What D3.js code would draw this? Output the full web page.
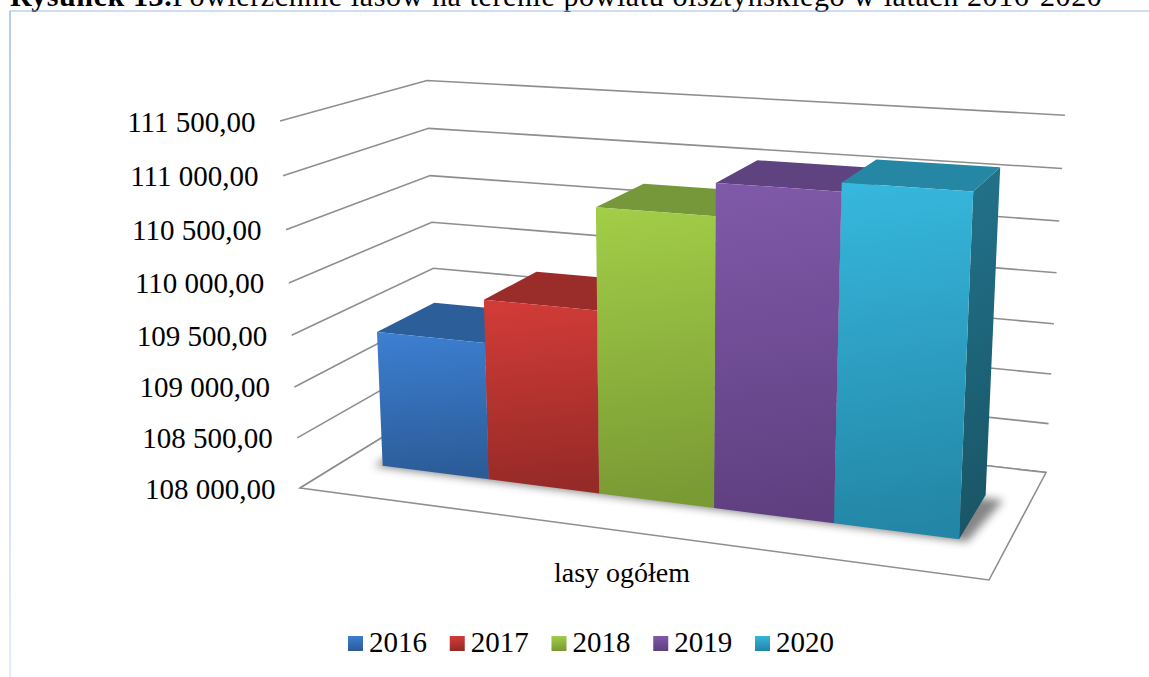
<!DOCTYPE html>
<html lang="pl">
<head>
<meta charset="UTF-8">
<title>Rysunek 13</title>
<script src="https://d3js.org/d3.v7.min.js"></script>
<style>
    html, body { margin: 0; padding: 0; background: #fff; }
    svg { display: block; }
    text { font-family: "Liberation Serif", serif; fill: #000; }
</style>
</head>
<body>
<div id="chart"></div>
<script>
// data
var years = ['2016', '2017', '2018', '2019', '2020'];
var area = [109360, 109780, 110745, 111045, 111125];
var ticks = [108000, 108500, 109000, 109500, 110000, 110500, 111000, 111500];
var category = 'lasy ogółem';

// face colours per series: [front top, front bottom, top face, side top, side bottom]
var colors = [
    ['#3d7fd2', '#2b5c98', '#2c5e99', '#2c5e99', '#204670'],
    ['#d33c38', '#962a27', '#9a2c29', '#9a2c29', '#701f1d'],
    ['#a2ce48', '#7a9a34', '#76983a', '#76983a', '#56702a'],
    ['#805aa9', '#5f3f80', '#5f4280', '#5f4280', '#452e5e'],
    ['#37b8de', '#2386a6', '#2587a3', '#22738c', '#195566']
];

var width = 1149, height = 677;

var svg = d3.select('#chart').append('svg')
    .attr('width', width)
    .attr('height', height);

// floor corners of the 3D box on screen, clockwise from front-left
var floor = [[300, 488], [989, 580], [1046, 472.5], [438, 403]];
// verticals run together far below the picture
var vanish = [678, 7426];
var topFrontLeft = 121;

// unit square to floor quad
var dx1 = floor[1][0] - floor[2][0], dy1 = floor[1][1] - floor[2][1];
var dx2 = floor[3][0] - floor[2][0], dy2 = floor[3][1] - floor[2][1];
var sx = floor[0][0] - floor[1][0] + floor[2][0] - floor[3][0];
var sy = floor[0][1] - floor[1][1] + floor[2][1] - floor[3][1];
var den = dx1 * dy2 - dx2 * dy1;
var g = (sx * dy2 - dx2 * sy) / den;
var h = (dx1 * sy - sx * dy1) / den;
var a = floor[1][0] - floor[0][0] + g * floor[1][0];
var b = floor[3][0] - floor[0][0] + h * floor[3][0];
var d = floor[1][1] - floor[0][1] + g * floor[1][1];
var e = floor[3][1] - floor[0][1] + h * floor[3][1];
var beta = (topFrontLeft - floor[0][1]) / (vanish[1] - topFrontLeft);

// u along the categories, v up the value axis, w into the picture (all 0..1)
function project(u, v, w) {
    var X = a * u + b * w + floor[0][0] + beta * v * vanish[0];
    var Y = d * u + e * w + floor[0][1] + beta * v * vanish[1];
    var W = g * u + h * w + 1 + beta * v;
    return [X / W, Y / W];
}

var uScale = d3.scaleBand().domain(years).range([0, 1]).paddingInner(0).paddingOuter(0.375);
var vScale = d3.scaleLinear().domain([108000, 111500]).range([0, 1]);
var wScale = d3.scaleBand().domain([category]).range([0, 1]).paddingInner(0).paddingOuter(0.69);

var fmt = d3.formatLocale({ decimal: ',', thousands: ' ', grouping: [3], currency: ['', ''] }).format(',.2f');

function poly(pts) {
    return 'M' + pts.map(function (p) { return p.join(','); }).join('L') + 'Z';
}

// gradients and shadow blur
var defs = svg.append('defs');
function gradient(id, c0, c1) {
    var gr = defs.append('linearGradient').attr('id', id)
        .attr('x1', 0).attr('y1', 0).attr('x2', 0.06).attr('y2', 1);
    gr.append('stop').attr('offset', '0%').attr('stop-color', c0);
    gr.append('stop').attr('offset', '100%').attr('stop-color', c1);
}
colors.forEach(function (c, i) {
    gradient('front' + i, c[0], c[1]);
    gradient('side' + i, c[3], c[4]);
});
defs.append('filter').attr('id', 'blur')
    .attr('x', '-10%').attr('y', '-20%').attr('width', '120%').attr('height', '140%')
    .append('feGaussianBlur').attr('stdDeviation', 4);
var border = defs.append('linearGradient').attr('id', 'border')
    .attr('gradientUnits', 'userSpaceOnUse')
    .attr('x1', 0).attr('y1', 11).attr('x2', 0).attr('y2', height);
border.append('stop').attr('offset', '0%').attr('stop-color', '#9db9e8');
border.append('stop').attr('offset', '100%').attr('stop-color', '#dbe5f6');

// title, mostly cut off by the top of the picture
var title = svg.append('text').attr('x', 10).attr('y', 6).attr('font-size', 30).attr('letter-spacing', 0.6);
title.append('tspan').attr('font-weight', 'bold').text('Rysunek 13.');
title.append('tspan').text('Powierzchnie lasów na terenie powiatu olsztyńskiego w latach 2016-2020');

// chart frame
svg.append('path').attr('d', 'M10,' + height + 'V11').attr('stroke', 'url(#border)').attr('fill', 'none').attr('stroke-width', 1.5);
svg.append('path').attr('d', 'M10,11H' + width).attr('stroke', '#9db9e8').attr('fill', 'none').attr('stroke-width', 1);

// walls: gridlines from the front-left edge to the back corner and on to the right
var gridColor = '#8e8e8e';
svg.append('g').selectAll('path').data(ticks).enter().append('path')
    .attr('d', function (t) {
        var v = vScale(t);
        return d3.line()([project(0, v, 0), project(0, v, 1), project(1, v, 1)]);
    })
    .attr('fill', 'none')
    .attr('stroke', gridColor)
    .attr('stroke-width', 1.6);

// floor
svg.append('path')
    .attr('d', poly([project(0, 0, 0), project(1, 0, 0), project(1, 0, 1), project(0, 0, 1)]))
    .attr('fill', '#fff')
    .attr('stroke', gridColor)
    .attr('stroke-width', 1.6);

var w0 = wScale(category), w1 = w0 + wScale.bandwidth();
var u0 = uScale(years[0]), u1 = uScale(years[4]) + uScale.bandwidth();

// shadow under the bars
svg.append('path')
    .attr('d', poly([project(u0 - 0.012, 0, w0 - 0.012), project(u1 + 0.012, 0, w0 - 0.012),
                     project(u1 + 0.028, 0, w1 - 0.03), project(u0 - 0.012, 0, w1 - 0.03)]))
    .attr('fill', '#444')
    .attr('opacity', 0.65)
    .attr('filter', 'url(#blur)');

// bars, left to right so that each one covers the top of the previous
var bars = svg.append('g').selectAll('g').data(years).enter().append('g');
bars.each(function (y, i) {
    var l = uScale(y), r = l + uScale.bandwidth(), v = vScale(area[i]);
    var gBar = d3.select(this);
    gBar.append('path')
        .attr('d', poly([project(r, 0, w0), project(r, 0, w1), project(r, v, w1), project(r, v, w0)]))
        .attr('fill', 'url(#side' + i + ')');
    gBar.append('path')
        .attr('d', poly([project(l, v, w0), project(r, v, w0), project(r, v, w1), project(l, v, w1)]))
        .attr('fill', colors[i][2]);
    gBar.append('path')
        .attr('d', poly([project(l, 0, w0), project(r, 0, w0), project(r, v, w0), project(l, v, w0)]))
        .attr('fill', 'url(#front' + i + ')');
});

// value labels
svg.append('g').selectAll('text').data(ticks).enter().append('text')
    .attr('x', function (t) { return project(0, vScale(t), 0)[0] - 24.5; })
    .attr('y', function (t) { return project(0, vScale(t), 0)[1] + 10.5; })
    .attr('text-anchor', 'end')
    .attr('font-size', 29)
    .text(fmt);

// category label
svg.append('text')
    .attr('x', 622).attr('y', 582)
    .attr('text-anchor', 'middle')
    .attr('font-size', 28)
    .text(category);

// legend
var legendX = d3.scalePoint().domain(years).range([348, 755]);
var legend = svg.append('g').selectAll('g').data(years).enter().append('g')
    .attr('transform', function (y) { return 'translate(' + legendX(y) + ',636)'; });
legend.append('rect')
    .attr('width', 15).attr('height', 15)
    .attr('fill', function (y, i) { return 'url(#front' + i + ')'; });
legend.append('text')
    .attr('x', 21).attr('y', 16)
    .attr('font-size', 29)
    .text(function (y) { return y; });
</script>
</body>
</html>
